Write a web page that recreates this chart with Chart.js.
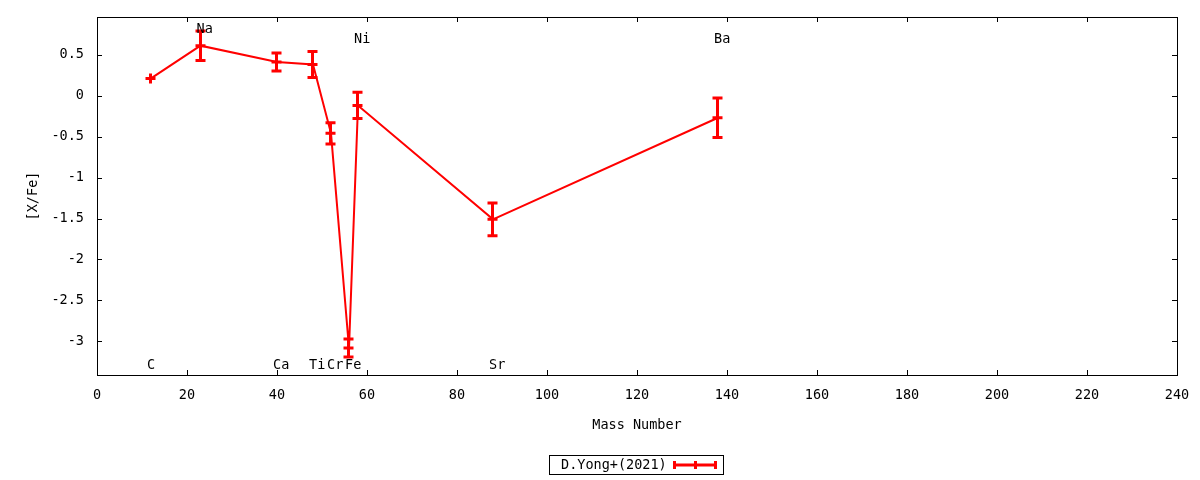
<!DOCTYPE html>
<html>
<head>
<meta charset="utf-8">
<script src="https://cdn.jsdelivr.net/npm/chart.js@4"></script>
<style>
  html, body { margin: 0; padding: 0; background: #fff; }
  #wrap { width: 1200px; height: 480px; }
</style>
</head>
<body>
<div id="wrap"><canvas id="chart" width="1200" height="480"></canvas></div>
<script>
// data
const elements = ["C", "Na", "Ca", "Ti", "Cr", "Fe", "Ni", "Sr", "Ba"];
const massNumbers = [12, 23, 40, 48, 52, 56, 58, 88, 138];
const abundances = [0.21, 0.61, 0.41, 0.38, -0.46, -3.08, -0.12, -1.51, -0.27];
const errors = [0, 0.18, 0.11, 0.16, 0.13, 0.11, 0.16, 0.2, 0.24];
const labelLevels = [-3.29, 0.81, -3.29, -3.29, -3.29, -3.29, 0.69, -3.29, 0.69];
const xTicks = [0, 20, 40, 60, 80, 100, 120, 140, 160, 180, 200, 220, 240];
const yTicks = [-3, -2.5, -2, -1.5, -1, -0.5, 0, 0.5];
const seriesName = "D.Yong+(2021)";

const FONT = "DejaVu Sans Mono";
const FONT_SIZE = 13.5;
const RED = "#ff0000";

// vertical bar with caps, plus a "+" marker at the value
function drawErrorBar(ctx, x, yLo, yHi, yMid, capW) {
  ctx.beginPath();
  ctx.moveTo(x, yMid - 5);
  ctx.lineTo(x, yMid + 5);
  ctx.moveTo(x - 5, yMid);
  ctx.lineTo(x + 5, yMid);
  if (yLo !== yHi) {
    ctx.moveTo(x, yLo);
    ctx.lineTo(x, yHi);
    ctx.moveTo(x - capW / 2, yLo);
    ctx.lineTo(x + capW / 2, yLo);
    ctx.moveTo(x - capW / 2, yHi);
    ctx.lineTo(x + capW / 2, yHi);
  }
  ctx.stroke();
}

const errorBarPlugin = {
  id: "errorBars",
  afterDatasetsDraw(chart) {
    const ctx = chart.ctx;
    const xs = chart.scales.x, ys = chart.scales.y;
    ctx.save();
    ctx.strokeStyle = RED;
    ctx.lineWidth = 3;
    massNumbers.forEach((m, i) => {
      const px = Math.round(xs.getPixelForValue(m)) - 0.5;
      drawErrorBar(ctx, px,
        ys.getPixelForValue(abundances[i] - errors[i]),
        ys.getPixelForValue(abundances[i] + errors[i]),
        ys.getPixelForValue(abundances[i]), 10);
    });
    ctx.restore();
  }
};

const frameAndLabels = {
  id: "frameAndLabels",
  afterDraw(chart) {
    const ctx = chart.ctx;
    const a = chart.chartArea;
    const xs = chart.scales.x, ys = chart.scales.y;
    ctx.save();
    ctx.strokeStyle = "#000";
    ctx.lineWidth = 1;
    ctx.strokeRect(Math.round(a.left) + 0.5, Math.round(a.top) + 0.5,
      Math.round(a.right - a.left), Math.round(a.bottom - a.top));

    // inward ticks on all four sides
    const tl = 5;
    ctx.beginPath();
    xTicks.forEach(v => {
      const px = Math.round(xs.getPixelForValue(v)) + 0.5;
      ctx.moveTo(px, a.bottom); ctx.lineTo(px, a.bottom - tl);
      ctx.moveTo(px, a.top); ctx.lineTo(px, a.top + tl);
    });
    yTicks.forEach(v => {
      const py = Math.round(ys.getPixelForValue(v)) + 0.5;
      ctx.moveTo(a.left, py); ctx.lineTo(a.left + tl, py);
      ctx.moveTo(a.right, py); ctx.lineTo(a.right - tl, py);
    });
    ctx.stroke();

    // element names
    ctx.fillStyle = "#000";
    ctx.font = FONT_SIZE + "px '" + FONT + "'";
    ctx.textAlign = "left";
    ctx.textBaseline = "middle";
    elements.forEach((el, i) => {
      ctx.fillText(el, xs.getPixelForValue(massNumbers[i]) - 4, ys.getPixelForValue(labelLevels[i]));
    });

    // key box below the plot
    const boxX = 549, boxY = 455, boxW = 174, boxH = 19;
    const midY = boxY + boxH / 2;
    ctx.strokeRect(boxX + 0.5, boxY + 0.5, boxW, boxH);
    ctx.fillText(seriesName, 561, midY + 1);
    ctx.strokeStyle = RED;
    ctx.lineWidth = 3;
    ctx.beginPath();
    ctx.moveTo(674, midY + 0.5); ctx.lineTo(716, midY + 0.5);
    [674.5, 695.5, 715.5].forEach(x => {
      ctx.moveTo(x, midY - 3.5); ctx.lineTo(x, midY + 4.5);
    });
    ctx.stroke();
    ctx.restore();
  }
};

new Chart(document.getElementById("chart"), {
  type: "line",
  data: {
    datasets: [{
      label: seriesName,
      data: massNumbers.map((m, i) => ({ x: m, y: abundances[i] })),
      borderColor: RED,
      backgroundColor: RED,
      borderWidth: 2,
      pointRadius: 0,
      tension: 0,
      fill: false
    }]
  },
  options: {
    responsive: false,
    animation: false,
    devicePixelRatio: 1,
    layout: { padding: { left: 0, right: 23, top: 17, bottom: 0 } },
    plugins: {
      legend: { display: false },
      tooltip: { enabled: false }
    },
    scales: {
      x: {
        type: "linear",
        min: 0,
        max: 240,
        afterBuildTicks: s => { s.ticks = xTicks.map(v => ({ value: v })); },
        afterFit: s => { s.height = 105; s.paddingLeft = 0; s.paddingRight = 0; },
        grid: { display: false, drawTicks: false },
        border: { display: false },
        ticks: {
          color: "#000",
          padding: 12,
          maxRotation: 0,
          autoSkip: false,
          font: { family: FONT, size: FONT_SIZE },
          callback: v => String(v)
        },
        title: {
          display: true,
          text: "Mass Number",
          color: "#000",
          font: { family: FONT, size: FONT_SIZE },
          padding: { top: 0, bottom: 46 }
        }
      },
      y: {
        type: "linear",
        min: -3.41,
        max: 0.96,
        afterBuildTicks: s => { s.ticks = yTicks.map(v => ({ value: v })); },
        afterFit: s => { s.width = 97; s.paddingTop = 0; s.paddingBottom = 0; },
        grid: { display: false, drawTicks: false },
        border: { display: false },
        ticks: {
          color: "#000",
          padding: 13,
          autoSkip: false,
          font: { family: FONT, size: FONT_SIZE },
          callback: v => String(v)
        },
        title: {
          display: true,
          text: "[X/Fe]",
          color: "#000",
          font: { family: FONT, size: FONT_SIZE },
          padding: { top: 25, bottom: 0 }
        }
      }
    }
  },
  plugins: [errorBarPlugin, frameAndLabels]
});
</script>
</body>
</html>
